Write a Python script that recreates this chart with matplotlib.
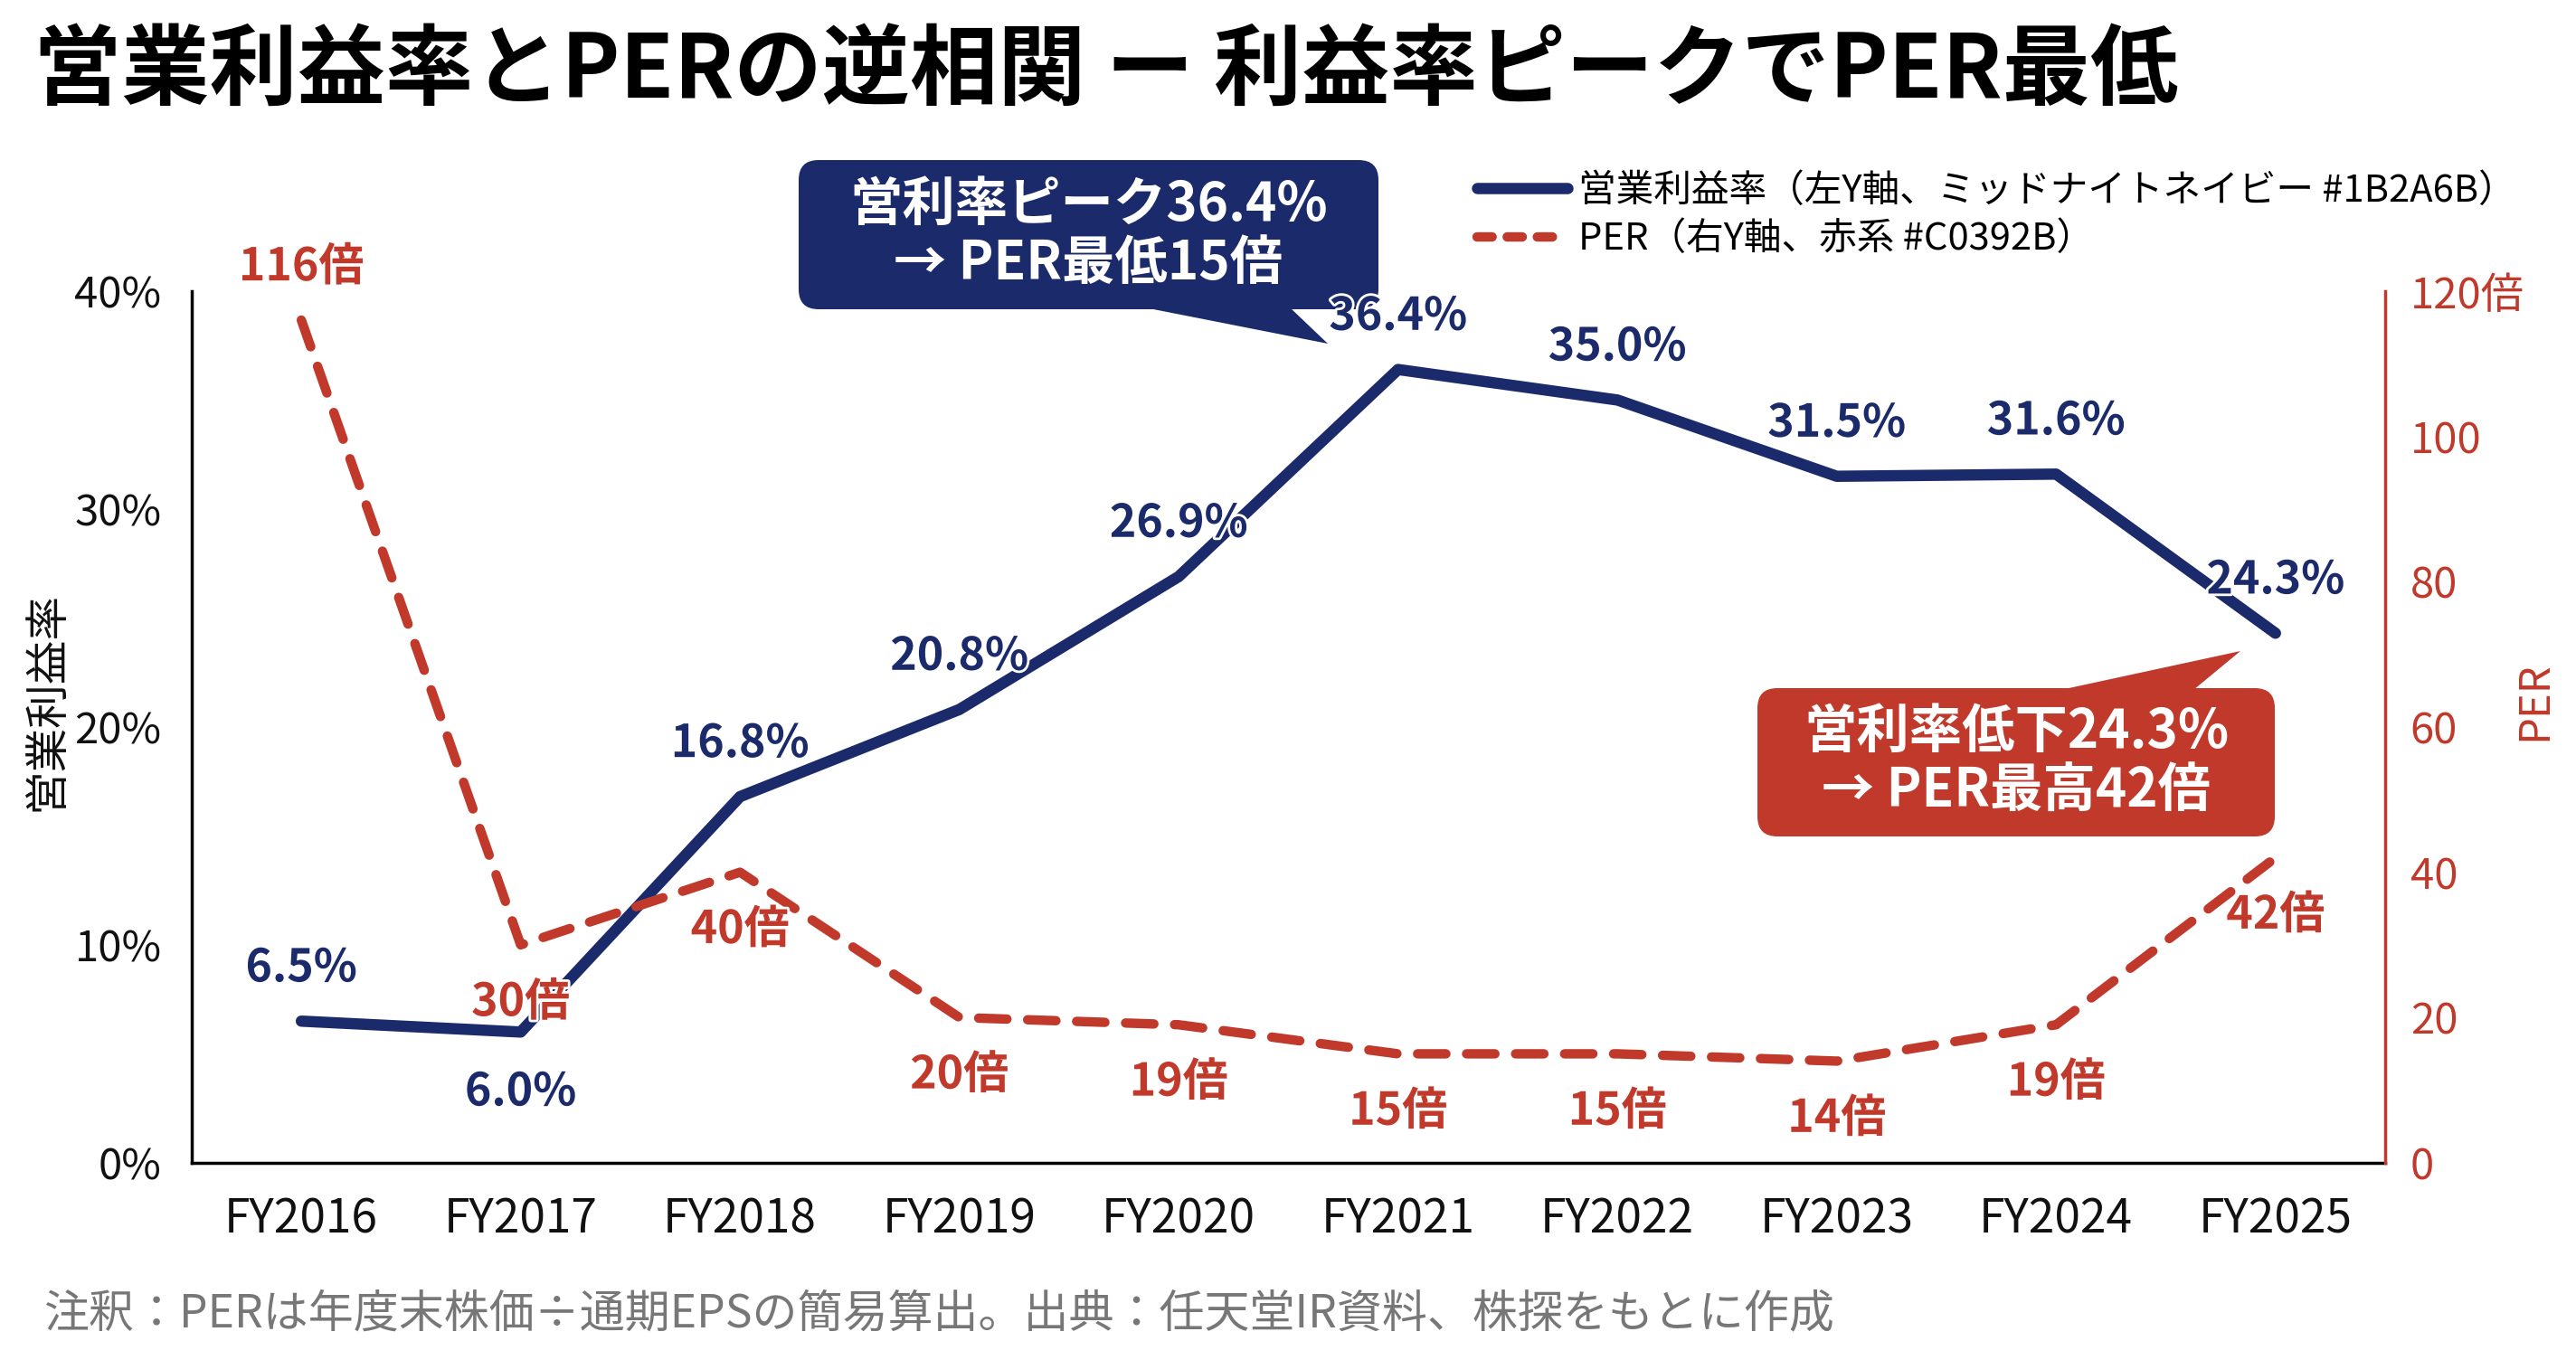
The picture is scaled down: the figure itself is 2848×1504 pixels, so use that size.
import matplotlib
matplotlib.use("Agg")
import matplotlib.pyplot as plt
import matplotlib.patheffects as pe
from matplotlib.lines import Line2D
from matplotlib.patches import FancyBboxPatch, Polygon

plt.rcParams['font.family'] = ['Noto Sans CJK JP', 'DejaVu Sans']

# data
years = ["FY2016", "FY2017", "FY2018", "FY2019", "FY2020",
         "FY2021", "FY2022", "FY2023", "FY2024", "FY2025"]
margin = [6.5, 6.0, 16.8, 20.8, 26.9, 36.4, 35.0, 31.5, 31.6, 24.3]
per = [116, 30, 40, 20, 19, 15, 15, 14, 19, 42]
margin_ticks = [0, 10, 20, 30, 40]
per_ticks = [0, 20, 40, 60, 80, 100, 120]
# label above (+1) or below (-1) the point
margin_side = [1, -1, 1, 1, 1, 1, 1, 1, 1, 1]
per_side = [1, -1, -1, -1, -1, -1, -1, -1, -1, -1]

NAVY = "#1B2A6B"
RED = "#C0392B"

fig = plt.figure(figsize=(28.48, 15.04), dpi=100)
fig.patch.set_facecolor("white")
ax = fig.add_axes([0.0744, 0.145, 0.8515, 0.641])
ax2 = ax.twinx()

x = list(range(len(years)))
ax.plot(x, margin, color=NAVY, lw=9, solid_capstyle='round', solid_joinstyle='round', zorder=3)
ax2.plot(x, per, color=RED, lw=7.5, ls=(0, (3, 2.2)), dash_capstyle='round', zorder=3)

ax.set_xlim(-0.5, len(years) - 0.5)
ax.set_ylim(0, 40)
ax2.set_ylim(0, 120)

ax.set_xticks(x)
ax.set_xticklabels(years)
ax.set_yticks(margin_ticks)
ax.set_yticklabels([f"{t}%" for t in margin_ticks])
ax2.set_yticks(per_ticks)
ax2.set_yticklabels([f"{t}倍" if t == per_ticks[-1] else str(t) for t in per_ticks])

ax.tick_params(axis='x', length=0, pad=26, labelsize=37, labelcolor="#111111")
ax.tick_params(axis='y', length=0, pad=24, labelsize=34, labelcolor="#111111")
ax2.tick_params(axis='y', length=0, pad=20, labelsize=34, labelcolor=RED)

for a in (ax, ax2):
    a.spines['top'].set_visible(False)
    a.set_facecolor("none")
ax.spines['right'].set_visible(False)
ax.spines['left'].set_linewidth(2.5)
ax.spines['bottom'].set_linewidth(2.5)
ax2.spines['left'].set_visible(False)
ax2.spines['bottom'].set_visible(False)
ax2.spines['right'].set_color(RED)
ax2.spines['right'].set_linewidth(2.5)

ax.set_ylabel("営業利益率", fontsize=35, color="#111111")
ax.yaxis.set_label_coords(-0.056, 0.53)
ax2.set_ylabel("PER", fontsize=34, color=RED)
ax2.yaxis.set_label_coords(1.058, 0.53)

# data labels (thin white halo so they stay readable over the bubble tails)
halo = [pe.withStroke(linewidth=4, foreground="white")]
for i, (m, s) in enumerate(zip(margin, margin_side)):
    ax.annotate(f"{m:.1f}%", (i, m), xytext=(0, 42 if s > 0 else -48),
                textcoords='offset points', ha='center', va='center',
                fontsize=36, fontweight='bold', color=NAVY, zorder=5,
                path_effects=halo)
for i, (p, s) in enumerate(zip(per, per_side)):
    ax2.annotate(f"{p}倍", (i, p), xytext=(0, 42 if s > 0 else -46),
                 textcoords='offset points', ha='center', va='center',
                 fontsize=36, fontweight='bold', color=RED, zorder=5,
                 path_effects=halo)

# callout bubbles (positions in pixels, 100 dpi), drawn under the axes
def bubble(box, tail, text, color):
    x0, y0, x1, y1 = [v / 100 for v in box]
    H = 15.04
    patch = FancyBboxPatch((x0, H - y1), x1 - x0, y1 - y0,
                           boxstyle="round,pad=0,rounding_size=0.22",
                           transform=fig.dpi_scale_trans, facecolor=color,
                           edgecolor="none", zorder=-2)
    fig.patches.append(patch)
    pts = [(px / 100, H - py / 100) for px, py in tail]
    fig.patches.append(Polygon(pts, closed=True, transform=fig.dpi_scale_trans,
                               facecolor=color, edgecolor="none", zorder=-2))
    fig.text((x0 + x1) / 2, H - (y0 + y1) / 2, text, transform=fig.dpi_scale_trans,
             ha='center', va='center', fontsize=42, fontweight='bold',
             color="white", linespacing=1.12, zorder=-1)

bubble((883, 177, 1524, 342), [(1265, 340), (1426, 340), (1468, 380)],
       "営利率ピーク36.4%\n→ PER最低15倍", NAVY)
bubble((1943, 761, 2515, 925), [(2278, 763), (2425, 763), (2477, 720)],
       "営利率低下24.3%\n→ PER最高42倍", RED)

# legend
handles = [Line2D([], [], color=NAVY, lw=9, solid_capstyle='round'),
           Line2D([], [], color=RED, lw=7.5, ls=(0, (1.6, 1.6)), dash_capstyle='round')]
labels = ["営業利益率（左Y軸、ミッドナイトネイビー #1B2A6B）",
          "PER（右Y軸、赤系 #C0392B）"]
fig.legend(handles, labels, loc='upper left', bbox_to_anchor=(0.566, 0.887),
           frameon=False, fontsize=30, handlelength=2.4, handletextpad=0.3,
           labelspacing=0.3, borderpad=0)

fig.text(0.013, 0.947, "営業利益率とPERの逆相関 ー 利益率ピークでPER最低",
         fontsize=70, fontweight='bold', ha='left', va='center', color="#000000")
fig.text(0.017, 0.034, "注釈：PERは年度末株価÷通期EPSの簡易算出。出典：任天堂IR資料、株探をもとに作成",
         fontsize=36, ha='left', va='center', color="#777777")

fig.savefig("out.png", dpi=100)
